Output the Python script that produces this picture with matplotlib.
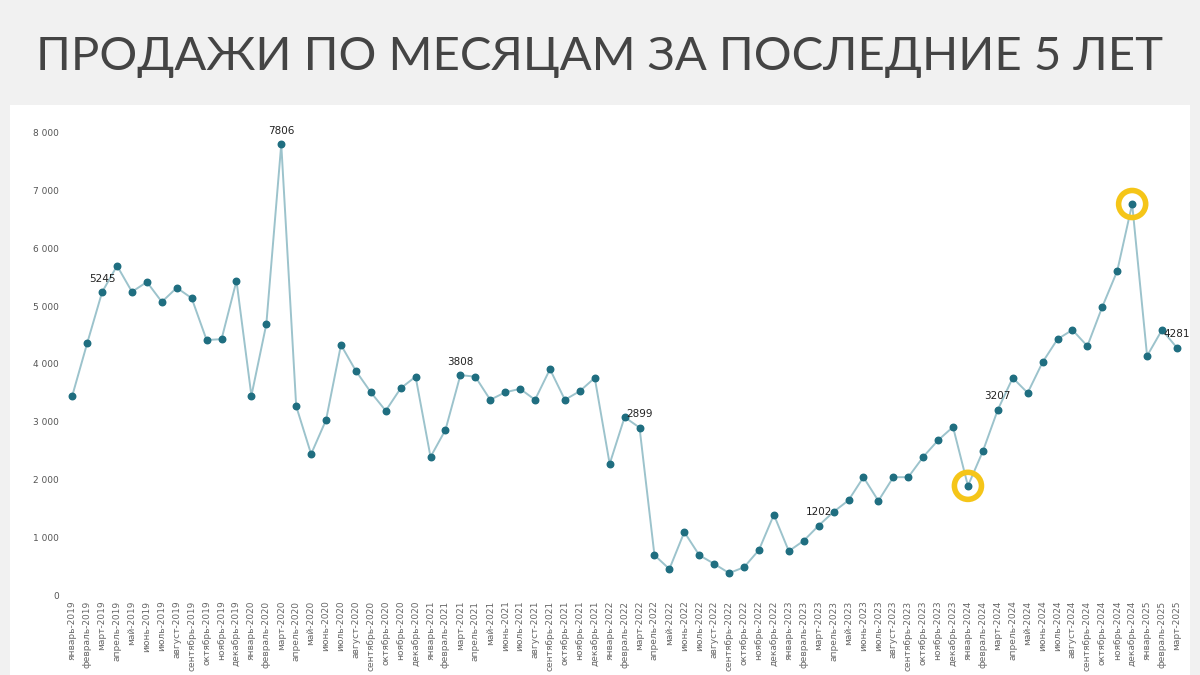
import matplotlib
matplotlib.use("Agg")
import matplotlib.pyplot as plt

months = ["январь","февраль","март","апрель","май","июнь","июль","август","сентябрь","октябрь","ноябрь","декабрь"]
labels = [f"{months[i % 12]}-{2019 + i // 12}" for i in range(75)]
values = [3450, 4360, 5245, 5700, 5250, 5420, 5075, 5320, 5140, 4415, 4430, 5440,
          3450, 4690, 7806, 3270, 2440, 3030, 4330, 3880, 3510, 3190, 3580, 3780,
          2390, 2860, 3808, 3780, 3380, 3510, 3570, 3380, 3910, 3380, 3530, 3760,
          2270, 3080, 2899, 690, 450, 1090, 690, 540, 380, 480, 780, 1390,
          760, 940, 1202, 1440, 1640, 2040, 1630, 2040, 2040, 2390, 2680, 2910,
          1890, 2490, 3207, 3760, 3500, 4030, 4430, 4590, 4310, 4990, 5610, 6770,
          4140, 4590, 4281]
annotated = [2, 14, 26, 38, 50, 62, 74]
highlighted = [60, 71]
yticks = [0, 1000, 2000, 3000, 4000, 5000, 6000, 7000, 8000]

fig = plt.figure(figsize=(12, 6.75), dpi=100)
fig.patch.set_facecolor("#f1f1f1")
bg = fig.add_axes([0.008, 0.0, 0.984, 0.845], zorder=-5)
bg.set_facecolor("white")
bg.set_xticks([]); bg.set_yticks([])
for s in bg.spines.values():
    s.set_visible(False)
fig.text(0.5, 0.915, "ПРОДАЖИ ПО МЕСЯЦАМ ЗА ПОСЛЕДНИЕ 5 ЛЕТ", ha="center", va="center",
         fontsize=34, family="Lato", fontweight="normal", color="#444444")

ax = fig.add_axes([0.054, 0.1185, 0.933, 0.6845], zorder=1)
ax.patch.set_alpha(0)
x = list(range(len(values)))
ax.plot(x, values, color="#9cc3cc", lw=1.4, zorder=2)
ax.scatter(x, values, s=22, color="#1f6e80", zorder=4)
for i in highlighted:
    ax.scatter([i], [values[i]], s=380, facecolor="none", edgecolor="#f5c518", linewidths=4, zorder=3)
for i in annotated:
    ax.annotate(str(values[i]), (i, values[i]), xytext=(0, 6), textcoords="offset points",
                ha="center", va="bottom", fontsize=7.5, color="#222222", zorder=5)
ax.set_xlim(-0.5, 74.5)
ax.set_ylim(0, 8000)
ax.set_yticks(yticks)
ax.set_yticklabels([f"{v:,}".replace(",", " ") for v in yticks], fontsize=6.5, color="#555555")
ax.set_xticks(x)
ax.set_xticklabels(labels, rotation=90, fontsize=6.5, color="#666666")
ax.tick_params(length=0, pad=4)
for s in ax.spines.values():
    s.set_visible(False)
fig.savefig("out.png", dpi=100)
